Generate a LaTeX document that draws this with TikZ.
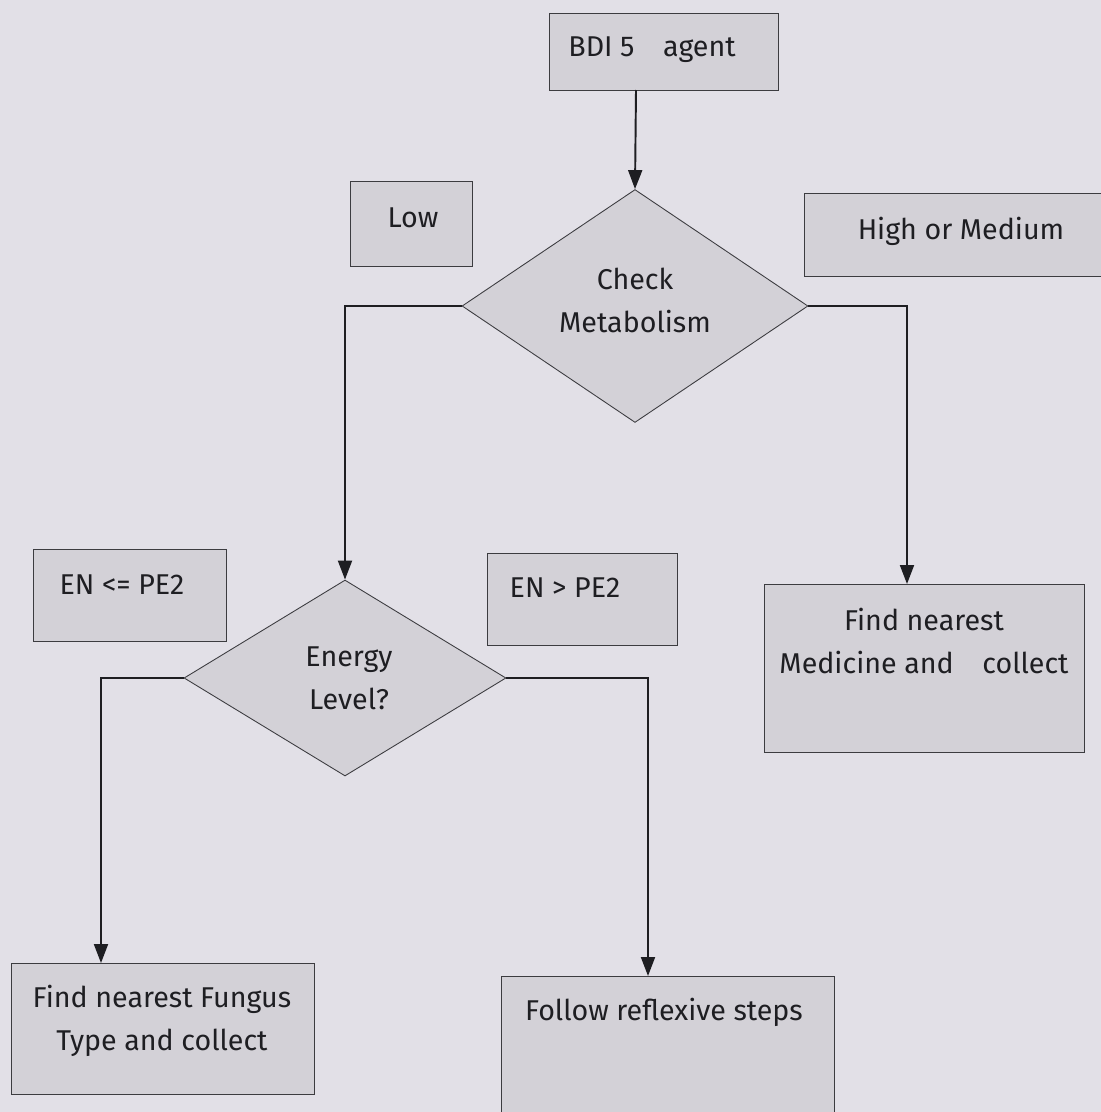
\documentclass[tikz,border=0pt]{standalone}
\usepackage{fontspec}
\setmainfont{Fira Sans}
\usetikzlibrary{shapes.geometric,arrows.meta}
\definecolor{paper}{HTML}{E2E0E7}
\definecolor{boxfill}{HTML}{D3D1D7}
\definecolor{edge}{HTML}{3C3C40}
\definecolor{ink}{HTML}{1E1E22}
\begin{document}
\begin{tikzpicture}[x=0.02cm,y=-0.02cm,
  every node/.style={text=ink,font=\fontsize{16.3}{24.5}\selectfont},
  box/.style={draw=edge,fill=boxfill,line width=0.5pt,inner sep=0pt,rectangle},
  decision/.style={draw=edge,fill=boxfill,line width=0.5pt,inner sep=0pt,diamond,align=center},
  txt/.style={align=center,inner sep=0pt},
  flow/.style={draw=ink,line width=1.1pt,-{Triangle[length=0.38cm,width=0.28cm]}}]
  % page
  \fill[paper] (0,0) rectangle (1101,1112);
  \useasboundingbox (0,0) rectangle (1101,1112);
  \clip (0,0) rectangle (1101,1112);

  % start
  \node[box,minimum width=4.58cm,minimum height=1.54cm] (bdi) at (663.5,51.5) {};
  \node[txt] (bdit) at (652,50) {BDI 5\quad agent};

  % first decision and its branch labels
  \node[decision,minimum width=6.92cm,minimum height=4.66cm] (cm) at (635,306) {};
  \node[txt] (cmt) at (635,300) {Check\\Metabolism};
  \node[box,minimum width=2.44cm,minimum height=1.7cm] (low) at (411,223.5) {};
  \node[txt] (lowt) at (413,218) {Low};
  \node[box,minimum width=6.12cm,minimum height=1.66cm] (him) at (957,234.5) {};
  \node[txt] (himt) at (961,231) {High or Medium};

  % second decision and its branch labels
  \node[decision,minimum width=6.44cm,minimum height=3.92cm] (ed) at (345,678) {};
  \node[txt] (edt) at (349,678) {Energy\\Level?};
  \node[box,minimum width=3.86cm,minimum height=1.84cm] (enle) at (129.5,595) {};
  \node[txt] (enlet) at (122,585) {EN <= PE2};
  \node[box,minimum width=3.8cm,minimum height=1.84cm] (engt) at (582,599) {};
  \node[txt] (engtt) at (565,588) {EN > PE2};

  % actions
  \node[box,minimum width=6.4cm,minimum height=3.36cm] (med) at (924,668) {};
  \node[txt] (medt) at (924,641) {Find nearest\\Medicine and\quad collect};
  \node[box,minimum width=6.06cm,minimum height=2.62cm] (fung) at (162.5,1028.5) {};
  \node[txt] (fungt) at (162,1021) {Find nearest Fungus\\Type and collect};
  \node[box,minimum width=6.66cm,minimum height=3.08cm] (foll) at (667.5,1053) {};
  \node[txt] (follt) at (664,1012) {Follow reflexive steps};

  % entry points of the connectors
  \coordinate (bdiout) at (636,90);
  \coordinate (medin) at (907,584);
  \coordinate (fungin) at (101,963);
  \coordinate (follin) at (648,976);

  % connectors
  \draw[flow] (bdiout) -- (cm.north);
  \draw[flow] (cm.west) -| (ed.north);
  \draw[flow] (cm.east) -| (medin);
  \draw[flow] (ed.west) -| (fungin);
  \draw[flow] (ed.east) -| (follin);
\end{tikzpicture}
\end{document}
